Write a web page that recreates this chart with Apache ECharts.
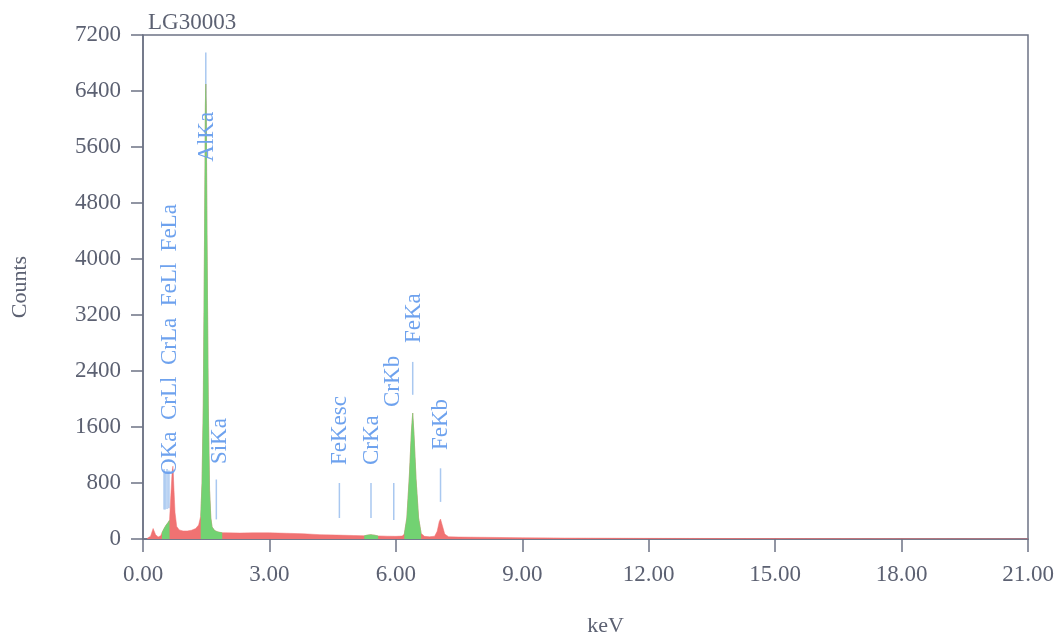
<!DOCTYPE html>
<html>
<head>
<meta charset="utf-8">
<script src="https://cdn.jsdelivr.net/npm/echarts@6/dist/echarts.min.js"></script>
<style>
  html, body { margin: 0; padding: 0; background: #fff; }
  #chart { width: 1060px; height: 637px; }
</style>
</head>
<body>
<div id="chart"></div>
<script>
// EDS spectrum LG30003
const energy = [0.10,0.18,0.24,0.30,0.36,0.42,0.45,0.50,0.55,0.60,0.63,0.66,0.69,0.71,0.73,0.76,0.80,0.86,0.95,1.05,
  1.15,1.25,1.32,1.37,1.40,1.43,1.46,1.48,1.49,1.50,1.52,1.55,1.58,1.61,1.64,1.70,1.76,1.82,1.88,2.0,
  2.3,2.6,3.0,3.4,3.8,4.2,4.6,5.0,5.25,5.33,5.41,5.49,5.58,5.8,6.0,6.15,6.20,6.26,6.32,6.37,
  6.40,6.43,6.48,6.54,6.60,6.68,6.8,6.92,6.98,7.03,7.06,7.10,7.16,7.25,7.5,8.0,9.0,10,12,15,18,21];
const counts = [10,40,150,60,30,45,90,150,200,240,270,620,950,1040,780,380,180,130,115,115,
  125,150,200,330,800,1900,4300,6200,6500,6200,4300,1900,700,300,170,120,105,95,90,88,
  85,88,88,82,75,62,56,50,46,56,62,55,44,40,38,42,70,300,900,1550,
  1800,1500,850,300,80,38,32,40,110,250,285,200,70,32,28,25,18,13,9,6,4,3];
// energy ranges drawn in green (fitted peaks)
const greenRanges = [[0.45,0.63],[1.37,1.88],[5.25,5.58],[6.20,6.60]];

// element marker lines
const lineEnergy = [0.50,0.525,0.57,0.615,0.705,1.49,1.74,4.66,5.41,5.95,6.40,7.06];
const lineTop    = [1000,960,1000,980,1000,6950,850,800,800,800,2530,1010];
const lineBottom = [420,420,430,440,420,5000,280,300,300,270,2060,530];
// element labels
const labelText   = ['OKa  CrLl  CrLa  FeLl  FeLa','AlKa','SiKa','FeKesc','CrKa','CrKb','FeKa','FeKb'];
const labelEnergy = [0.64,1.52,1.83,4.68,5.43,5.93,6.43,7.08];
const labelBase   = [915,5390,1070,1057,1057,1886,2800,1271];

const axisColor = '#6d7385';
const textColor = '#5c6172';
const font = 'Liberation Serif';

const spectrum = energy.map((e, i) => [e, counts[i]]);
const greenData = [];
greenRanges.forEach(([a, b]) => {
  energy.forEach((e, i) => { if (e >= a && e <= b) greenData.push([e, counts[i]]); });
  greenData.push([ (b + 0.001), null ]);
});

const markerItems = lineEnergy.map((e, i) => [e, lineTop[i], lineBottom[i]]);
const labelItems = labelText.map((t, i) => [labelEnergy[i], labelBase[i]]);

const option = {
  animation: false,
  title: {
    text: 'LG30003', left: 143, top: 6,
    textStyle: { fontFamily: font, fontSize: 23, fontWeight: 'normal', color: textColor }
  },
  grid: { left: 143, right: 32, top: 35, bottom: 98, outerBoundsMode: 'none',
    show: true, borderColor: axisColor, borderWidth: 1.5 },
  xAxis: {
    type: 'value', min: 0, max: 21, interval: 3,
    name: 'keV', nameLocation: 'middle', nameGap: 76,
    nameTextStyle: { fontFamily: font, fontSize: 22, color: textColor, padding: [0, 0, 0, 40] },
    axisLine: { show: true, lineStyle: { color: axisColor, width: 1.5 } },
    axisTick: { show: true, length: 13, lineStyle: { color: axisColor, width: 1.5 } },
    axisLabel: { formatter: v => v.toFixed(2), fontFamily: font, fontSize: 23, color: textColor, margin: 24 },
    splitLine: { show: false }
  },
  yAxis: {
    type: 'value', min: 0, max: 7200, interval: 800,
    name: 'Counts', nameLocation: 'middle', nameGap: 112,
    nameTextStyle: { fontFamily: font, fontSize: 22, color: textColor },
    axisLine: { show: true, lineStyle: { color: axisColor, width: 1.5 } },
    axisTick: { show: true, length: 12, lineStyle: { color: axisColor, width: 1.5 } },
    axisLabel: { formatter: v => String(v), fontFamily: font, fontSize: 23, color: textColor, margin: 22 },
    splitLine: { show: false }
  },
  series: [
    {
      type: 'custom', z: 1, silent: true,
      data: markerItems,
      renderItem: (params, api) => {
        const p1 = api.coord([api.value(0), api.value(1)]);
        const p2 = api.coord([api.value(0), api.value(2)]);
        return { type: 'line', shape: { x1: p1[0], y1: p1[1], x2: p2[0], y2: p2[1] },
          style: { stroke: '#a9c8f0', lineWidth: 1.5 } };
      }
    },
    {
      type: 'line', z: 2, silent: true, data: spectrum,
      showSymbol: false, lineStyle: { width: 0.5, color: '#f07272' },
      areaStyle: { color: '#f07272', opacity: 1 }
    },
    {
      type: 'line', z: 3, silent: true, data: greenData, connectNulls: false,
      showSymbol: false, lineStyle: { width: 0.5, color: '#72d272' },
      areaStyle: { color: '#72d272', opacity: 1 }
    },
    {
      type: 'custom', z: 4, silent: true,
      data: labelItems,
      renderItem: (params, api) => {
        const p = api.coord([api.value(0), api.value(1)]);
        return { type: 'text', x: p[0], y: p[1], rotation: Math.PI / 2,
          style: { text: labelText[params.dataIndex], fontFamily: font, fontSize: 23,
            fill: '#6ea2ee', align: 'left', verticalAlign: 'middle' } };
      }
    }
  ]
};

const chart = echarts.init(document.getElementById('chart'));
chart.setOption(option);
</script>
</body>
</html>
